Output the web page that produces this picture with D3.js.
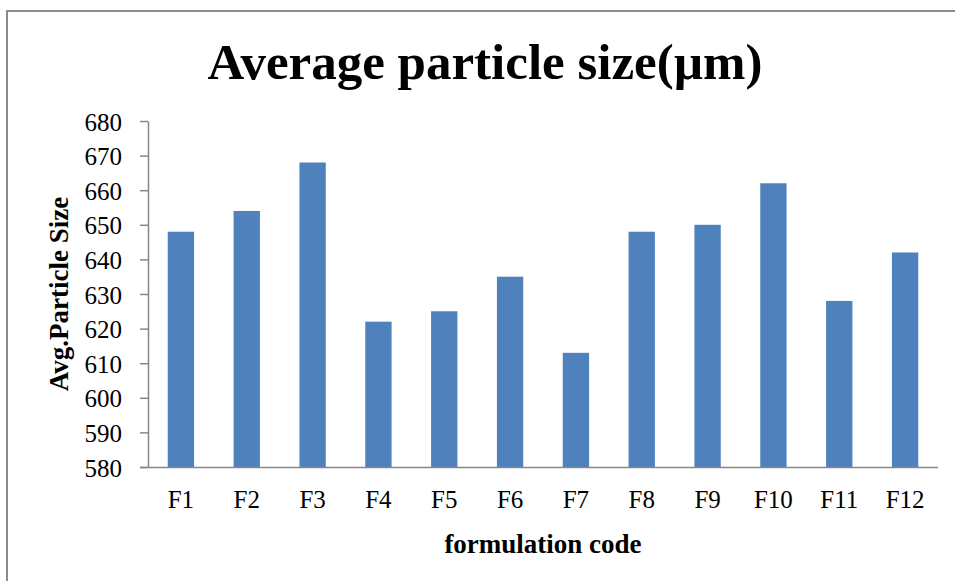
<!DOCTYPE html>
<html>
  <head>
    <meta charset="utf-8" />
    <title>Average particle size</title>
    <script src="https://cdnjs.cloudflare.com/ajax/libs/d3/7.8.5/d3.min.js"></script>
    <style>
      body { margin: 0; background: #fff; }
      svg text { font-family: "Liberation Serif", "DejaVu Serif", serif; }
    </style>
  </head>
  <body>
    <div id="chart"></div>
    <script>
      // data
      const codes = ["F1", "F2", "F3", "F4", "F5", "F6", "F7", "F8", "F9", "F10", "F11", "F12"];
      const sizes = [648, 654, 668, 622, 625, 635, 613, 648, 650, 662, 628, 642];
      const yTicks = [580, 590, 600, 610, 620, 630, 640, 650, 660, 670, 680];

      const width = 955, height = 581;
      const margin = { top: 121, right: 17, bottom: 114, left: 148 };

      const svg = d3.select("#chart")
        .append("svg")
        .attr("width", width)
        .attr("height", height);

      // chart area border (only top and left fall inside the picture)
      svg.append("path")
        .attr("d", `M7,${height} V11 H${width}`)
        .attr("fill", "none")
        .attr("stroke", "#8c8c8c")
        .attr("stroke-width", 2);

      const x = d3.scaleBand()
        .domain(codes)
        .range([margin.left, width - margin.right])
        .paddingInner(0.6)
        .paddingOuter(0.3);

      const y = d3.scaleLinear()
        .domain([580, 680])
        .range([height - margin.bottom, margin.top]);

      // bars
      svg.selectAll("rect.bar")
        .data(codes)
        .join("rect")
        .attr("class", "bar")
        .attr("x", d => x(d))
        .attr("width", x.bandwidth())
        .attr("y", (d, i) => y(sizes[i]))
        .attr("height", (d, i) => y(580) - y(sizes[i]))
        .attr("fill", "#4f81bd");

      // y axis
      const yAxis = svg.append("g")
        .attr("transform", `translate(${margin.left},0)`)
        .call(d3.axisLeft(y).tickValues(yTicks).tickSize(8).tickPadding(18).tickSizeOuter(0));
      yAxis.select(".domain").attr("stroke", "#888").attr("stroke-width", 1.5);
      yAxis.selectAll(".tick line").attr("stroke", "#888").attr("stroke-width", 1.5);
      yAxis.selectAll("text")
        .attr("font-size", 25)
        .attr("fill", "#000")
        .attr("dy", "0.36em")
        .style("font-family", "'Liberation Serif', serif");

      // x axis
      const xAxis = svg.append("g")
        .attr("transform", `translate(0,${y(580)})`)
        .call(d3.axisBottom(x).tickSize(0).tickPadding(23).tickSizeOuter(0));
      xAxis.select(".domain")
        .attr("d", `M${margin.left - 8},0.5H${width - margin.right}`)
        .attr("stroke", "#888").attr("stroke-width", 1.5);
      xAxis.selectAll("text")
        .attr("font-size", 25)
        .attr("fill", "#000")
        .style("font-family", "'Liberation Serif', serif");

      // titles
      svg.append("text")
        .attr("x", 485)
        .attr("y", 79)
        .attr("text-anchor", "middle")
        .attr("font-size", 51)
        .attr("font-weight", "bold")
        .text("Average particle size(µm)");

      svg.append("text")
        .attr("x", 543)
        .attr("y", 553)
        .attr("text-anchor", "middle")
        .attr("font-size", 27)
        .attr("font-weight", "bold")
        .text("formulation code");

      svg.append("text")
        .attr("transform", "translate(68,294) rotate(-90)")
        .attr("text-anchor", "middle")
        .attr("font-size", 27)
        .attr("font-weight", "bold")
        .text("Avg.Particle Size");
    </script>
  </body>
</html>
